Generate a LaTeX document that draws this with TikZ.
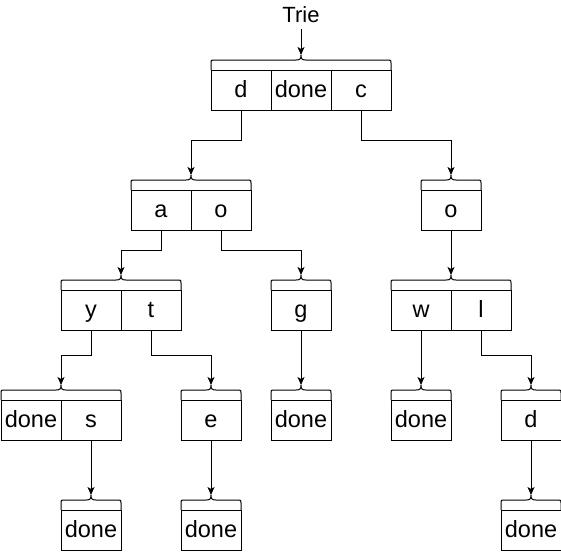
\documentclass[tikz,border=0pt]{standalone}
\usepackage{fontspec}
\setmainfont{Liberation Sans}
\usetikzlibrary{arrows.meta}
\tikzset{
  cell/.style={draw, line width=1pt, minimum width=60pt, minimum height=40pt, inner sep=0pt,
    text height=18pt, text depth=4pt, font=\fontsize{23.5}{23.5}\selectfont},
  bracepath/.style={draw, line width=1pt},
  arr/.style={draw, line width=1pt, -{Stealth[length=8pt,width=7pt,inset=2pt]}},
}
% brace above a trie node: name, left x, right x, top y
\newcommand\tbrace[4]{%
  \pgfmathsetmacro\bcx{(#2+#3)/2}%
  \draw[bracepath] (#2,#4) -- (#2,#4-7) .. controls (#2,#4-10) .. (#2+3,#4-10)
    -- (\bcx-5,#4-10) .. controls (\bcx-1,#4-10) and (\bcx,#4-11) .. (\bcx,#4-15)
    .. controls (\bcx,#4-11) and (\bcx+1,#4-10) .. (\bcx+5,#4-10)
    -- (#3-3,#4-10) .. controls (#3,#4-10) .. (#3,#4-7) -- (#3,#4);
  \coordinate (#1) at (\bcx,#4-15);
}
\begin{document}
\begin{tikzpicture}[x=1pt,y=-1pt]
\useasboundingbox (0,0) rectangle (561,551);
% title
\node[inner xsep=0pt, inner ysep=6pt, font=\fontsize{22}{22}\selectfont] (trie) at (301,15) {Trie};
% root
\node[cell] (r1) at (241,90) {d};
\node[cell] (r2) at (301,90) {done};
\node[cell] (r3) at (361,90) {c};
\tbrace{rb}{211}{391}{70}
% level 2
\node[cell] (a) at (161,210) {a};
\node[cell] (o1) at (221,210) {o};
\tbrace{aob}{131}{251}{190}
\node[cell] (o2) at (451,210) {o};
\tbrace{ob}{421}{481}{190}
% level 3
\node[cell] (y) at (91,310) {y};
\node[cell] (t) at (151,310) {t};
\tbrace{ytb}{61}{181}{290}
\node[cell] (g) at (301,310) {g};
\tbrace{gb}{271}{331}{290}
\node[cell] (w) at (421,310) {w};
\node[cell] (l) at (481,310) {l};
\tbrace{wlb}{391}{511}{290}
% level 4
\node[cell] (ds1) at (31,420) {done};
\node[cell] (s) at (91,420) {s};
\tbrace{dsb}{1}{121}{400}
\node[cell] (e) at (211,420) {e};
\tbrace{eb}{181}{241}{400}
\node[cell] (gd) at (301,420) {done};
\tbrace{gdb}{271}{331}{400}
\node[cell] (wd) at (421,420) {done};
\tbrace{wdb}{391}{451}{400}
\node[cell] (d) at (531,420) {d};
\tbrace{db}{501}{561}{400}
% level 5
\node[cell] (sd) at (91,530) {done};
\tbrace{sdb}{61}{121}{510}
\node[cell] (ed) at (211,530) {done};
\tbrace{edb}{181}{241}{510}
\node[cell] (dd) at (531,530) {done};
\tbrace{ddb}{501}{561}{510}
% connectors
\draw[arr] (trie.south) -- (rb);
\draw[arr] (r1.south) -- ++(0,30) -| (aob);
\draw[arr] (r3.south) -- ++(0,30) -| (ob);
\draw[arr] (a.south) -- ++(0,20) -| (ytb);
\draw[arr] (o1.south) -- ++(0,20) -| (gb);
\draw[arr] (o2.south) -- (wlb);
\draw[arr] (y.south) -- ++(0,25) -| (dsb);
\draw[arr] (t.south) -- ++(0,25) -| (eb);
\draw[arr] (g.south) -- (gdb);
\draw[arr] (w.south) -- (wdb);
\draw[arr] (l.south) -- ++(0,25) -| (db);
\draw[arr] (s.south) -- (sdb);
\draw[arr] (e.south) -- (edb);
\draw[arr] (d.south) -- (ddb);
\end{tikzpicture}
\end{document}
